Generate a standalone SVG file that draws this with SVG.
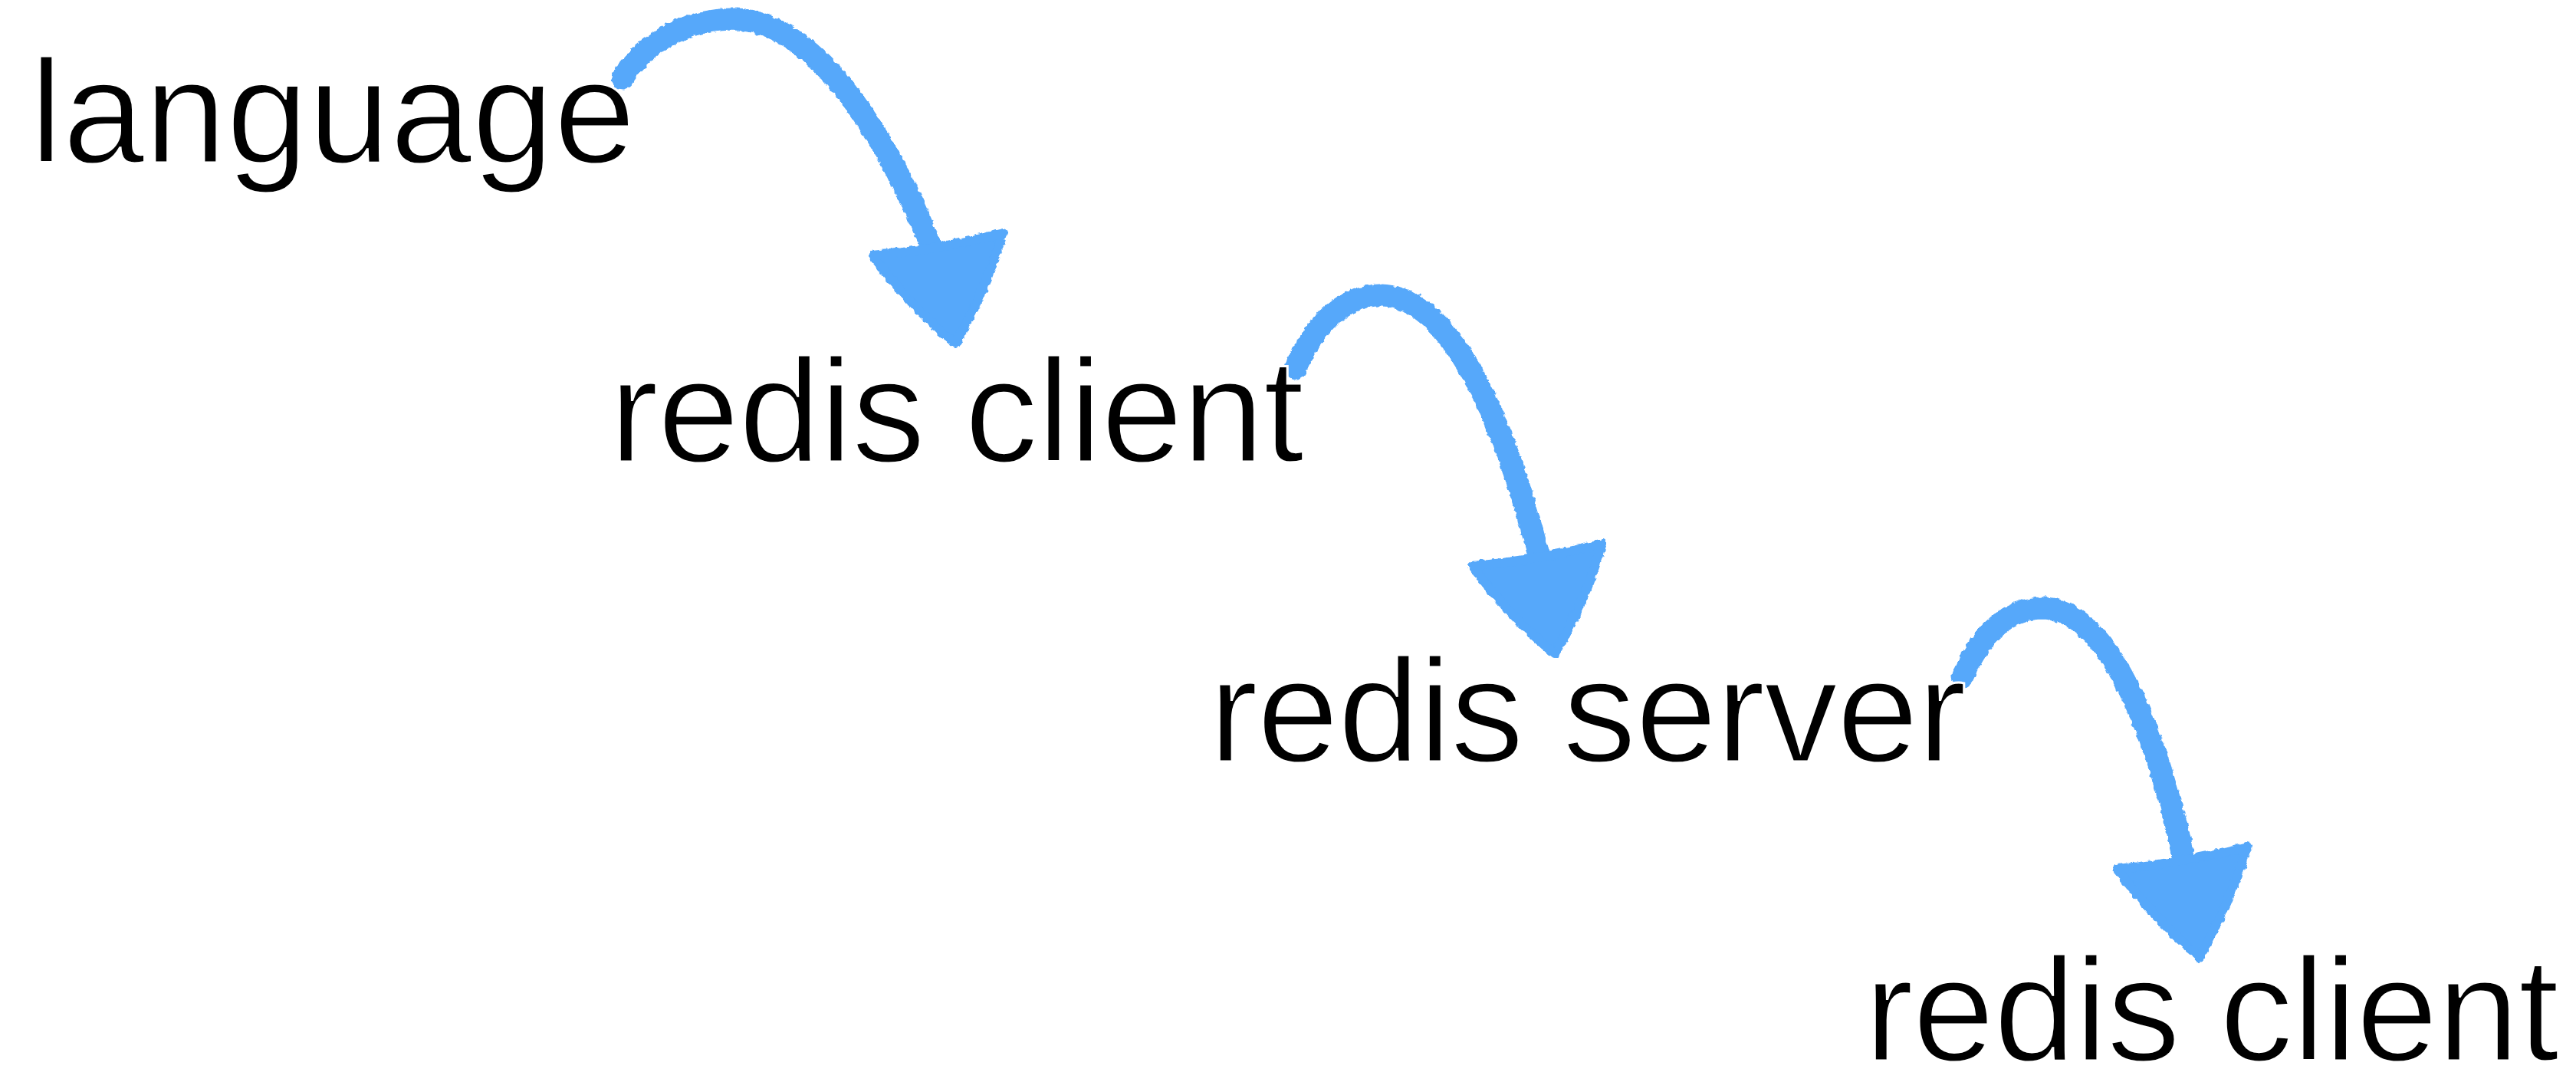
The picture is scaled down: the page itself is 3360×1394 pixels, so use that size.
<svg xmlns="http://www.w3.org/2000/svg" width="3360" height="1394" viewBox="0 0 3360 1394">
<style>
.lbl{font-family:"Liberation Sans",Arial,Helvetica,sans-serif;font-size:192px;fill:#000;stroke:#fff;stroke-width:3;}
.arc{fill:none;stroke:#56A8FA;stroke-width:29;stroke-linecap:round;stroke-linejoin:round;}
.head{fill:#56A8FA;stroke:#56A8FA;stroke-width:12;stroke-linejoin:round;}
</style>
<defs>
<filter id="rough" x="-10%" y="-10%" width="120%" height="120%">
<feTurbulence type="fractalNoise" baseFrequency="0.14" numOctaves="2" seed="5" result="n"/>
<feDisplacementMap in="SourceGraphic" in2="n" scale="6" xChannelSelector="R" yChannelSelector="G"/>
</filter>
<path id="arrowhead" class="head" d="M-108,-115 Q-25,-122 62,-144 Q40,-70 0,0 Q-58,-48 -108,-115 Z"/>
</defs>
<g id="connectors" filter="url(#rough)">
<g id="c1">
<path class="arc" d="M 812 102 C 845 50, 900 25, 960 25 C 1060 30, 1150 160, 1218 330"/>
<use href="#arrowhead" transform="translate(1246,448)"/>
</g>
<g id="c2">
<path class="arc" d="M 1690 480 C 1715 420, 1755 385, 1800 385 C 1890 385, 1960 540, 2008 728"/>
<use href="#arrowhead" transform="translate(2028,853)"/>
</g>
<g id="c3">
<path class="arc" d="M 2560 882 C 2585 825, 2620 793, 2665 793 C 2750 795, 2810 950, 2848 1115"/>
<use href="#arrowhead" transform="translate(2869,1248)"/>
</g>
</g>
<g id="n1"><text class="lbl" x="39" y="212">language</text></g>
<g id="n2"><text class="lbl" x="795" y="602" textLength="906" lengthAdjust="spacing">redis client</text></g>
<g id="n3"><text class="lbl" x="1577" y="993" textLength="988" lengthAdjust="spacing">redis server</text></g>
<g id="n4"><text class="lbl" x="2432" y="1383" textLength="906" lengthAdjust="spacing">redis client</text></g>
</svg>
